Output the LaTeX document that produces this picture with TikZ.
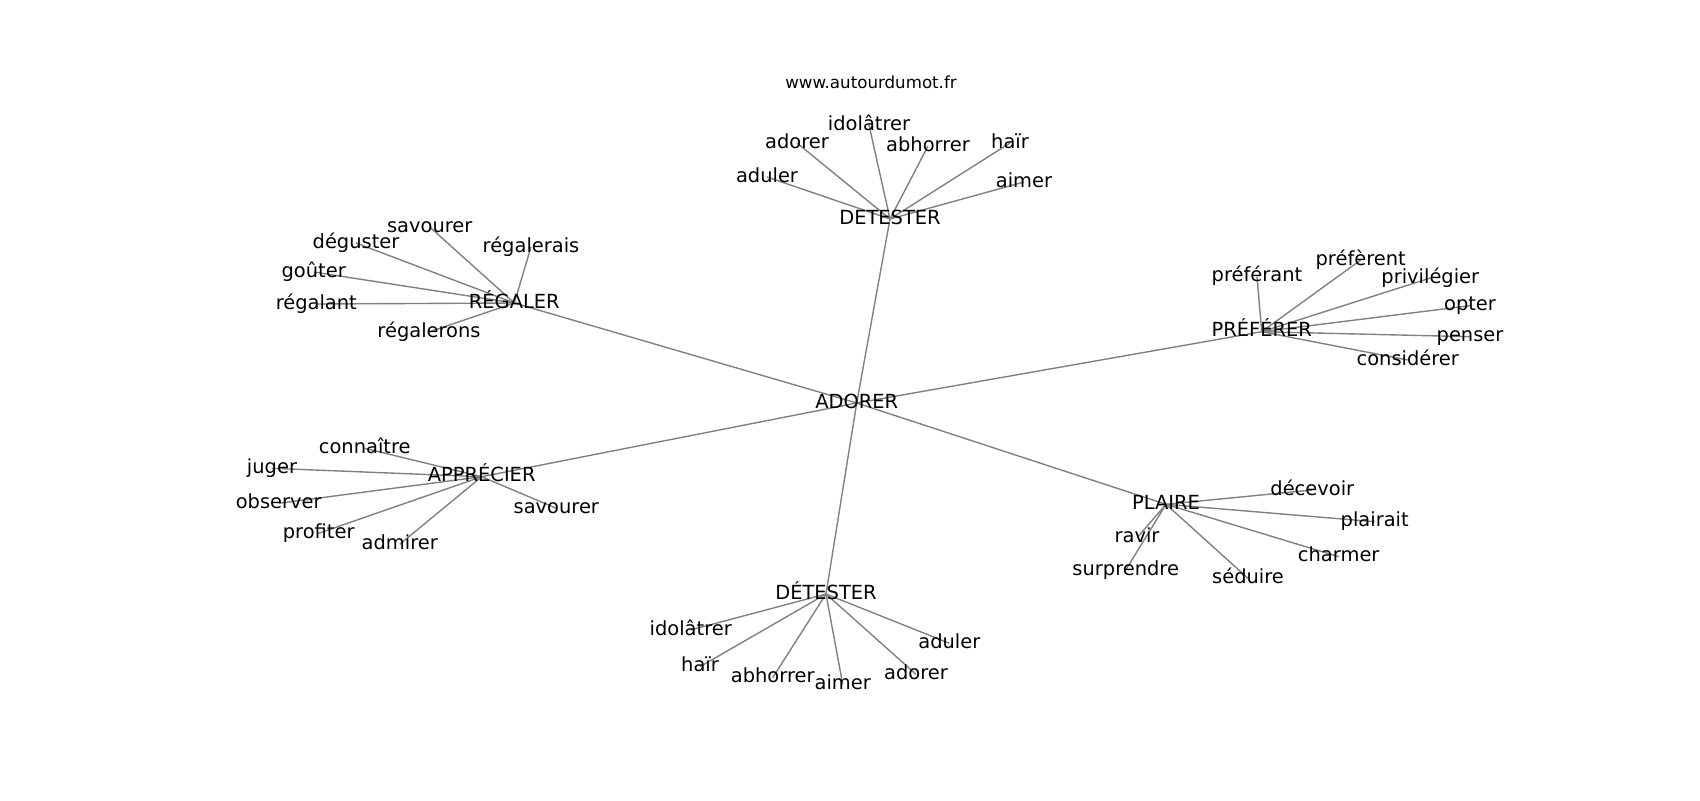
\documentclass[tikz,border=0pt]{standalone}
\usepackage{fontspec}
\setmainfont{DejaVu Sans}
\usetikzlibrary{backgrounds}
\tikzset{
  lbl/.style={font=\fontsize{14}{16}\selectfont, text height=10.6pt, text depth=3.4pt, inner sep=0pt, anchor=center, text=black},
  ttl/.style={font=\fontsize{12}{14}\selectfont, text height=9.1pt, text depth=2.9pt, inner sep=0pt, anchor=center, text=black},
  edge/.style={draw=gray, line width=1pt}
}
\begin{document}
\begin{tikzpicture}[x=0.72pt, y=-0.72pt]
\useasboundingbox (0,0) rectangle (1700,800);
\node[ttl] (title) at (871,84) {www.autourdumot.fr};
\node[lbl] (root) at (856.7,403) {ADORER};
% top hub
\node[lbl] (h1) at (890,219) {DETESTER};
\node[lbl] (h1a) at (767,177) {aduler};
\node[lbl] (h1b) at (797,143) {adorer};
\node[lbl] (h1c) at (869,125) {idolâtrer};
\node[lbl] (h1d) at (928,146) {abhorrer};
\node[lbl] (h1e) at (1010,143) {haïr};
\node[lbl] (h1f) at (1024,182) {aimer};
% regaler
\node[lbl] (h2) at (514.3,303) {RÉGALER};
\node[lbl] (h2a) at (429.7,227) {savourer};
\node[lbl] (h2b) at (356,243) {déguster};
\node[lbl] (h2c) at (531,247) {régalerais};
\node[lbl] (h2d) at (313.7,272) {goûter};
\node[lbl] (h2e) at (316.3,304) {régalant};
\node[lbl] (h2f) at (429,332) {régalerons};
% preferer
\node[lbl] (h3) at (1261.7,331.7) {PRÉFÉRER};
\node[lbl] (h3a) at (1257,276.7) {préférant};
\node[lbl] (h3b) at (1360.7,260) {préfèrent};
\node[lbl] (h3c) at (1430.3,278) {privilégier};
\node[lbl] (h3d) at (1470,305.7) {opter};
\node[lbl] (h3e) at (1470,336.7) {penser};
\node[lbl] (h3f) at (1407.7,360) {considérer};
% apprecier
\node[lbl] (h4) at (481.7,476.7) {APPRÉCIER};
\node[lbl] (h4a) at (364.7,448.3) {connaître};
\node[lbl] (h4b) at (272,468.3) {juger};
\node[lbl] (h4c) at (278.7,503.3) {observer};
\node[lbl] (h4d) at (556.3,508.3) {savourer};
\node[lbl] (h4e) at (318.7,533.3) {profiter};
\node[lbl] (h4f) at (399.7,544.3) {admirer};
% plaire
\node[lbl] (h5) at (1166,504.3) {PLAIRE};
\node[lbl] (h5a) at (1312.3,490) {décevoir};
\node[lbl] (h5b) at (1374.7,521.7) {plairait};
\node[lbl] (h5c) at (1137,537.7) {ravir};
\node[lbl] (h5d) at (1125.7,570) {surprendre};
\node[lbl] (h5e) at (1338.7,556.7) {charmer};
\node[lbl] (h5f) at (1248,578.3) {séduire};
% detester bottom
\node[lbl] (h6) at (826,594) {DÉTESTER};
\node[lbl] (h6a) at (690.7,630) {idolâtrer};
\node[lbl] (h6b) at (949.3,643.3) {aduler};
\node[lbl] (h6c) at (700,666.7) {haïr};
\node[lbl] (h6d) at (772.7,677.7) {abhorrer};
\node[lbl] (h6e) at (842.7,684.3) {aimer};
\node[lbl] (h6f) at (916,674.3) {adorer};
\begin{pgfonlayer}{background}
\foreach \h in {h1,h2,h3,h4,h5,h6}{
  \draw[edge] (root.center) -- (\h.center);
  \foreach \l in {a,b,c,d,e,f}{
    \draw[edge] (\h.center) -- (\h\l.center);
  }
}
\end{pgfonlayer}
\end{tikzpicture}
\end{document}
